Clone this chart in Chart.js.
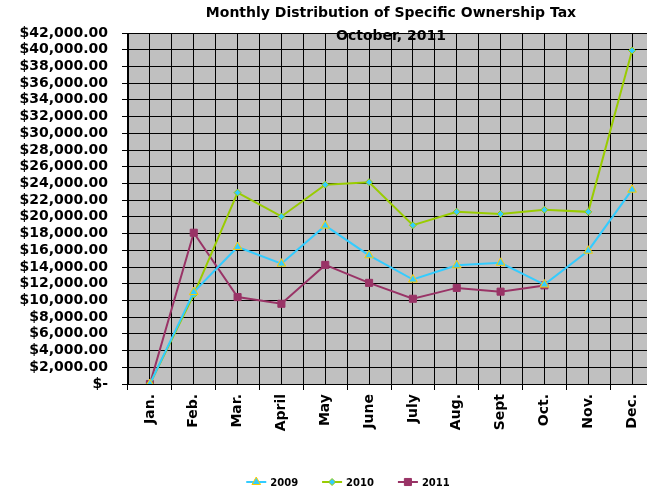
<!DOCTYPE html>
<html>
<head>
<meta charset="utf-8">
<script src="https://cdn.jsdelivr.net/npm/chart.js@4/dist/chart.umd.min.js"></script>
<style>
  html, body { margin: 0; padding: 0; background: #fff; overflow: hidden; }
  #wrap { width: 660px; height: 493px; position: relative; }
</style>
</head>
<body>
<div id="wrap"><canvas id="taxChart"></canvas></div>
<script>
// values
const months = ['Jan.', 'Feb.', 'Mar.', 'April', 'May', 'June', 'July', 'Aug.', 'Sept', 'Oct.', 'Nov.', 'Dec.'];
const tax2009 = [0, 11000, 16400, 14400, 18950, 15400, 12500, 14200, 14500, 11900, 15950, 23250];
const tax2010 = [0, 10700, 22900, 20050, 23850, 24150, 19000, 20600, 20350, 20850, 20600, 39900];
const tax2011 = [0, 18100, 10400, 9600, 14250, 12100, 10200, 11500, 11050, 11800, null, null];
const yMax = 42000;
const yStep = 2000;
const titleLines = ['Monthly Distribution of Specific Ownership Tax', 'October, 2011'];

const FONT = '"DejaVu Sans", sans-serif';

function money(v) {
    if (v === 0) return '$-';
    return '$' + v.toLocaleString('en-US', { minimumFractionDigits: 2, maximumFractionDigits: 2 });
}

function marker(ctx, style, x, y, r, fill, stroke) {
    ctx.save();
    ctx.fillStyle = fill;
    ctx.strokeStyle = stroke;
    ctx.lineWidth = 1;
    ctx.beginPath();
    if (style === 'triangle') {
        ctx.moveTo(x, y - r);
        ctx.lineTo(x + r * 0.866, y + r * 0.5);
        ctx.lineTo(x - r * 0.866, y + r * 0.5);
    } else if (style === 'rectRot') {
        ctx.moveTo(x, y - r);
        ctx.lineTo(x + r, y);
        ctx.lineTo(x, y + r);
        ctx.lineTo(x - r, y);
    } else {
        const s = r * Math.SQRT1_2;
        ctx.rect(x - s, y - s, 2 * s, 2 * s);
    }
    ctx.closePath();
    ctx.fill();
    ctx.stroke();
    ctx.restore();
}

const plotBackground = {
    id: 'plotBackground',
    beforeDraw(chart) {
        const { ctx, chartArea: a } = chart;
        ctx.save();
        ctx.fillStyle = '#C0C0C0';
        ctx.fillRect(a.left, a.top, a.right - a.left, a.bottom - a.top);
        ctx.restore();
    }
};

const titleAndLegend = {
    id: 'titleAndLegend',
    afterDraw(chart) {
        const { ctx, chartArea: a } = chart;
        const cx = (a.left + a.right) / 2;
        ctx.save();
        ctx.fillStyle = '#000';
        ctx.font = 'bold 14px ' + FONT;
        ctx.textAlign = 'center';
        ctx.textBaseline = 'middle';
        ctx.fillText(titleLines[0], cx, 13);
        ctx.fillText(titleLines[1], cx, 36);

        // legend: short line with marker, then label
        ctx.font = 'bold 10px ' + FONT;
        ctx.textAlign = 'left';
        const ly = 482;
        const items = chart.data.datasets.map(ds => ({ ds, w: 20 + 4 + ctx.measureText(ds.label).width }));
        const gap = 24;
        const total = items.reduce((s, it) => s + it.w, 0) + gap * (items.length - 1);
        let x = 348 - total / 2;
        items.forEach(({ ds, w }) => {
            ctx.strokeStyle = ds.borderColor;
            ctx.lineWidth = 2;
            ctx.beginPath();
            ctx.moveTo(x, ly);
            ctx.lineTo(x + 20, ly);
            ctx.stroke();
            marker(ctx, ds.pointStyle, x + 10, ly, ds.pointRadius, ds.pointBackgroundColor, ds.pointBorderColor);
            ctx.fillStyle = '#000';
            ctx.fillText(ds.label, x + 24, ly + 1);
            x += w + gap;
        });
        ctx.restore();
    }
};

new Chart(document.getElementById('taxChart'), {
    type: 'line',
    data: {
        labels: months,
        datasets: [{
            label: '2009',
            data: tax2009,
            borderColor: '#33CCFF',
            borderWidth: 2,
            pointStyle: 'triangle',
            pointRadius: 5,
            pointBackgroundColor: '#33CCFF',
            pointBorderColor: '#FFCC00',
            pointBorderWidth: 1
        }, {
            label: '2010',
            data: tax2010,
            borderColor: '#99CC00',
            borderWidth: 2,
            pointStyle: 'rectRot',
            pointRadius: 3.5,
            pointBackgroundColor: '#33CCFF',
            pointBorderColor: '#99CC00',
            pointBorderWidth: 1
        }, {
            label: '2011',
            data: tax2011,
            borderColor: '#993366',
            borderWidth: 2,
            pointStyle: 'rect',
            pointRadius: 5,
            pointBackgroundColor: '#993366',
            pointBorderColor: '#993366',
            pointBorderWidth: 1
        }]
    },
    options: {
        responsive: true,
        maintainAspectRatio: false,
        animation: false,
        layout: { padding: { top: 33, left: 0, right: 1, bottom: 39 } },
        plugins: {
            legend: { display: false },
            title: { display: false },
            tooltip: { enabled: false }
        },
        scales: {
            x: {
                offset: true,
                grid: { offset: true, color: '#000', lineWidth: 1, tickLength: 6 },
                border: { color: '#000' },
                ticks: {
                    color: '#000',
                    font: { family: FONT, size: 14, weight: 'bold' },
                    minRotation: 90,
                    maxRotation: 90,
                    padding: 4,
                    autoSkip: false
                },
                afterFit(scale) { scale.height = 70; }
            },
            xMid: {
                position: 'top',
                offset: true,
                grid: { offset: false, color: '#000', lineWidth: 1, drawTicks: false },
                border: { display: false },
                ticks: { display: false }
            },
            y: {
                min: 0,
                max: yMax,
                grid: { color: '#000', lineWidth: 1, tickLength: 6 },
                border: { color: '#000' },
                ticks: {
                    stepSize: yStep,
                    autoSkip: false,
                    color: '#000',
                    padding: 14,
                    font: { family: FONT, size: 14, weight: 'bold' },
                    callback: v => money(v)
                },
                afterFit(scale) { scale.width = 128; }
            }
        }
    },
    plugins: [plotBackground, titleAndLegend]
});
</script>
</body>
</html>
